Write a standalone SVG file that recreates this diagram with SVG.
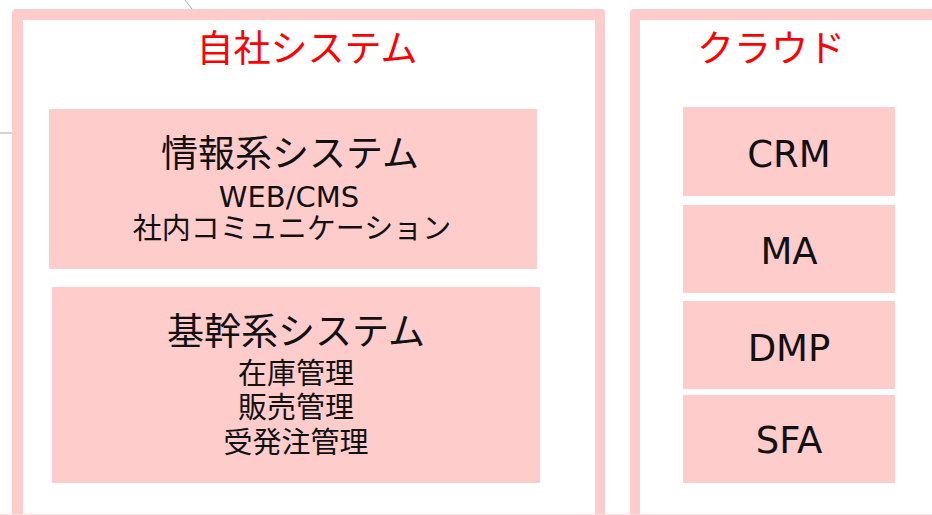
<svg xmlns="http://www.w3.org/2000/svg" width="932" height="515" viewBox="0 0 932 515">
<style>
.frame{fill:#FFCCCC}
.inner{fill:#FFFFFF}
.box{fill:#FFCCCC}
.t{font-family:"DejaVu Sans","Noto Sans CJK JP",sans-serif;text-anchor:middle;fill:#111111}
.title{fill:#FF0000;font-size:37px}
.h{font-size:37px}
.s{font-size:29px}
.l{font-size:37px}
.g{stroke:#AAAAAA;stroke-width:1;fill:none}
</style>
<rect width="932" height="515" fill="#FFFFFF"/>
<g id="connectors">
<line class="g" x1="185" y1="0" x2="192" y2="9"/>
<line class="g" x1="0" y1="133" x2="12" y2="133"/>
</g>
<g id="own-system">
<rect class="frame" x="12" y="9" width="593" height="520" rx="4"/>
<rect class="inner" x="23" y="20" width="572" height="510"/>
<text class="t title" x="307" y="62">自社システム</text>
</g>
<g id="cloud">
<rect class="frame" x="630" y="9" width="320" height="520" rx="4"/>
<rect class="inner" x="640" y="20" width="310" height="510"/>
<text class="t title" x="771" y="62">クラウド</text>
</g>
<g id="info-system">
<rect class="box" x="49" y="109" width="488" height="160"/>
<text class="t h" x="290" y="167">情報系システム</text>
<text class="t s" x="289" y="207">WEB/CMS</text>
<text class="t s" x="292" y="239">社内コミュニケーション</text>
</g>
<g id="core-system">
<rect class="box" x="52" y="287" width="488" height="196"/>
<text class="t h" x="296" y="345">基幹系システム</text>
<text class="t s" x="296" y="384">在庫管理</text>
<text class="t s" x="296" y="418">販売管理</text>
<text class="t s" x="296" y="453">受発注管理</text>
</g>
<g id="crm">
<rect class="box" x="683" y="107" width="212" height="89"/>
<text class="t l" x="789" y="167">CRM</text>
</g>
<g id="ma">
<rect class="box" x="683" y="205" width="212" height="88"/>
<text class="t l" x="789" y="264">MA</text>
</g>
<g id="dmp">
<rect class="box" x="683" y="301" width="212" height="88"/>
<text class="t l" x="789" y="361">DMP</text>
</g>
<g id="sfa">
<rect class="box" x="683" y="395" width="212" height="88"/>
<text class="t l" x="789" y="453">SFA</text>
</g>
<line x1="0" y1="514.5" x2="932" y2="514.5" stroke="#FFDDDD" stroke-width="1"/>
</svg>
